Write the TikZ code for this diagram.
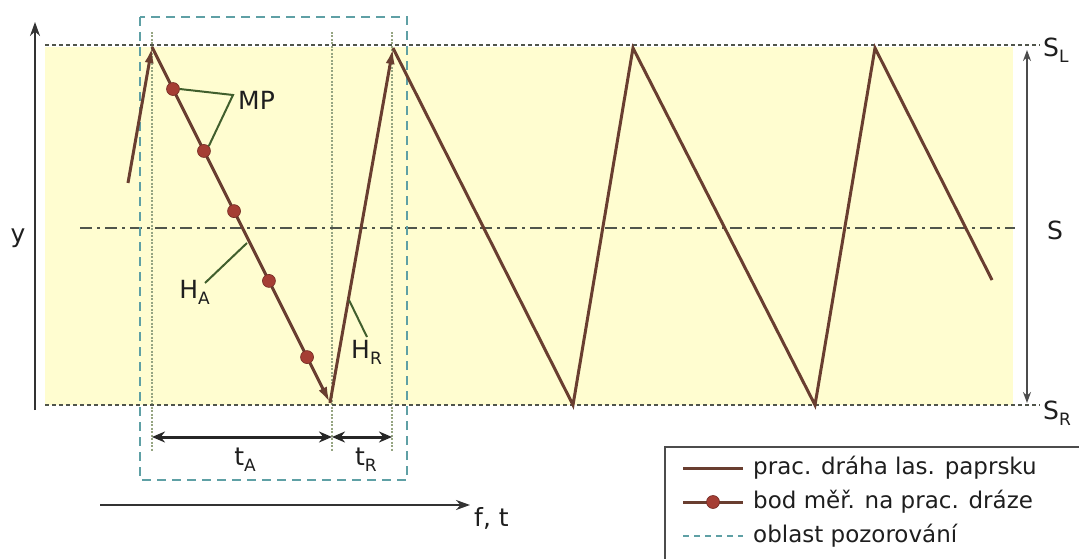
\documentclass[tikz,border=0pt]{standalone}
\usepackage{fontspec}
\setmainfont{DejaVu Sans}
\usetikzlibrary{arrows.meta,calc}
\definecolor{bgyellow}{RGB}{255,253,208}
\definecolor{pathc}{RGB}{105,62,48}
\definecolor{mpc}{RGB}{165,62,52}
\definecolor{obsc}{RGB}{95,160,165}
\definecolor{guidec}{RGB}{80,85,75}
\definecolor{vthin}{RGB}{150,165,130}
\definecolor{leaderc}{RGB}{65,95,45}
\definecolor{txtc}{RGB}{30,30,30}
\newcommand{\lsub}[1]{\raisebox{-0.45ex}{\fontsize{17}{17}\selectfont #1}}
\tikzset{
  lbl/.style={text=txtc,font=\fontsize{25}{28}\selectfont,inner sep=0pt},
  legtxt/.style={text=txtc,font=\fontsize{23}{26}\selectfont,inner sep=0pt,anchor=west},
  sawpath/.style={draw=pathc,line width=3pt},
  sawarrow/.style={sawpath,-{Latex[length=16pt,width=9pt]}},
  mpdot/.style={circle,fill=mpc,draw=mpc!70!black,line width=0.6pt,minimum size=13pt,inner sep=0pt},
  limitline/.style={draw=guidec,line width=2pt,dash pattern=on 4pt off 3pt},
  midline/.style={draw=guidec,line width=2pt,dash pattern=on 12pt off 5pt on 3pt off 5pt},
  obsbox/.style={draw=obsc,line width=2pt,dash pattern=on 9pt off 6pt},
  vguide/.style={draw=vthin,line width=1.1pt,dash pattern=on 2pt off 1.5pt},
  leader/.style={draw=leaderc,line width=2pt},
  dimarrow/.style={draw=black!85,line width=3pt,{Stealth[length=13pt,width=11pt]}-{Stealth[length=13pt,width=11pt]}},
  axisarrow/.style={draw=black!80,line width=2pt,-{Stealth[length=14pt,width=10pt]}},
}
\begin{document}
\begin{tikzpicture}[x=1pt,y=-1pt]
\useasboundingbox (0,0) rectangle (1079,559);
% background region
\fill[bgyellow] (45,47) rectangle (1013,405);

% coordinates of the sawtooth
\coordinate (p0) at (128,183);
\coordinate (t1) at (152,47);
\coordinate (b1) at (330,403);
\coordinate (t2) at (393,48);
\coordinate (b2) at (573,405);
\coordinate (t3) at (633,48);
\coordinate (b3) at (815,405);
\coordinate (t4) at (875,48);
\coordinate (pe) at (992,280);

% vertical thin guides
\coordinate (v1a) at (152,32); \coordinate (v1b) at (152,452);
\coordinate (v2a) at (332,32); \coordinate (v2b) at (332,452);
\coordinate (v3a) at (392,32); \coordinate (v3b) at (392,452);
\draw[vguide] (v1a) -- (v1b);
\draw[vguide] (v2a) -- (v2b);
\draw[vguide] (v3a) -- (v3b);

% limit and centre lines
\coordinate (ltl) at (45,45); \coordinate (ltr) at (1040,45);
\coordinate (lbl) at (45,405); \coordinate (lbr) at (1040,405);
\coordinate (cl) at (80,228); \coordinate (cr) at (1015,228);
\draw[limitline] (ltl) -- (ltr);
\draw[limitline] (lbl) -- (lbr);
\draw[midline] (cl) -- (cr);

% observation region
\coordinate (o1) at (140,17); \coordinate (o2) at (407,480);
\draw[obsbox] (o1) rectangle (o2);

% sawtooth path
\draw[sawarrow] (p0) -- (t1);
\draw[sawarrow] (t1) -- (b1);
\draw[sawarrow] (b1) -- (t2);
\draw[sawpath,line join=miter] (t2) -- (b2) -- (t3) -- (b3) -- (t4) -- (pe);

% measuring points
\foreach \k/\t in {1/0.118,2/0.292,3/0.461,4/0.657,5/0.871}{
  \node[mpdot] (mp\k) at ($(t1)!\t!(b1)$) {};
}

% MP label and leaders
\node[lbl,anchor=west] (mp) at (238,100) {MP};
\coordinate (mpv) at (233,95);
\draw[leader] (mp1.east) -- (mpv) -- (mp2.north east);

% H_A
\node[lbl,anchor=north east] (ha) at (210,280) {H\lsub{A}};
\coordinate (haend) at (247,243);
\coordinate (hast) at (205,283);
\draw[leader] (hast) -- (haend);

% H_R
\node[lbl,anchor=north west] (hr) at (351,340) {H\lsub{R}};
\coordinate (hrend) at (349,300);
\coordinate (hrst) at (367,337);
\draw[leader] (hrst) -- (hrend);

% dimension arrows
\coordinate (d1) at (152,437); \coordinate (d2) at (332,437); \coordinate (d3) at (392,437);
\draw[dimarrow] (d1) -- (d2);
\draw[dimarrow] (d2) -- (d3);
\node[lbl] (ta) at (245,460) {t\lsub{A}};
\node[lbl] (tr) at (366,460) {t\lsub{R}};

% axes
\coordinate (ya) at (35,410); \coordinate (yb) at (35,22);
\draw[axisarrow] (ya) -- (yb);
\node[lbl] (ylab) at (18,238) {y};
\coordinate (fa) at (100,505); \coordinate (fb) at (470,505);
\draw[axisarrow] (fa) -- (fb);
\node[lbl,anchor=west] (flab) at (474,518) {f, t};

% right range arrow
\coordinate (ra) at (1027,50); \coordinate (rb) at (1027,403);
\draw[draw=black!70,line width=1.6pt,{Stealth[length=11pt,width=8pt]}-{Stealth[length=11pt,width=8pt]}] (ra) -- (rb);
\node[lbl,anchor=west] (sl) at (1043,50) {S\lsub{L}};
\node[lbl,anchor=west] (s) at (1047,230) {S};
\node[lbl,anchor=west] (sr) at (1043,413) {S\lsub{R}};

% legend
\coordinate (lg1) at (665,447); \coordinate (lg2) at (1090,570);
\draw[draw=black!70,line width=1.6pt] (lg1) rectangle (lg2);
\coordinate (la1) at (683,468); \coordinate (la2) at (743,468);
\draw[sawpath] (la1) -- (la2);
\node[legtxt] (lt1) at (753,468) {prac. dráha las. paprsku};
\coordinate (lb1) at (683,502); \coordinate (lb2) at (743,502);
\draw[sawpath] (lb1) -- (lb2);
\node[mpdot] (lbd) at (713,502) {};
\node[legtxt] (lt2) at (753,502) {bod měř. na prac. dráze};
\coordinate (lc1) at (683,536); \coordinate (lc2) at (743,536);
\draw[obsbox,line width=1.6pt,dash pattern=on 6pt off 5pt] (lc1) -- (lc2);
\node[legtxt] (lt3) at (753,536) {oblast pozorování};
\end{tikzpicture}
\end{document}
